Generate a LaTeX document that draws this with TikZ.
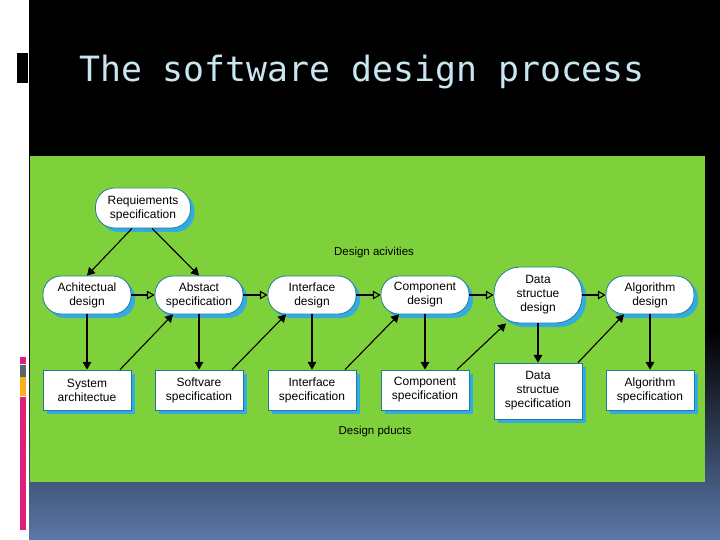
\documentclass[tikz,border=0pt]{standalone}
\usepackage{fontspec}
\newfontfamily\labelfont{Liberation Sans}
\newfontfamily\titlefont{DejaVu Sans Mono}
\usetikzlibrary{shapes.geometric, arrows, shadows}
\definecolor{panelgreen}{HTML}{7FD13B}
\definecolor{boxline}{HTML}{1E7E98}
\definecolor{boxshadow}{HTML}{33AAE2}
\definecolor{titleblue}{HTML}{C8E6F2}
\definecolor{slateblue}{HTML}{5B78AA}
\definecolor{slatemid}{HTML}{2F3D5C}
\definecolor{barpink}{HTML}{DE1F7E}
\definecolor{bargray}{HTML}{5A6470}
\definecolor{barorange}{HTML}{F6B21E}
\tikzstyle{activity} = [rectangle, rounded corners=18pt, minimum width=88pt, minimum height=38pt, inner sep=2pt, text centered, align=center, draw=boxline, line width=0.8pt, fill=white, drop shadow={shadow xshift=4pt, shadow yshift=-4pt, fill=boxshadow, opacity=1}, font=\labelfont\fontsize{12}{14}\selectfont]
\tikzstyle{product} = [rectangle, minimum width=88pt, minimum height=40pt, inner sep=2pt, text centered, align=center, draw=boxline, line width=0.8pt, fill=white, drop shadow={shadow xshift=4pt, shadow yshift=-4pt, fill=boxshadow, opacity=1}, font=\labelfont\fontsize{12}{14}\selectfont]
\tikzstyle{caption} = [font=\labelfont\fontsize{11.5}{14}\selectfont]
\tikzstyle{arrow} = [line width=1.1pt, ->, >=triangle 60]
\tikzstyle{flow} = [line width=1.1pt, ->, >=open triangle 60]

\begin{document}
\begin{tikzpicture}[x=1pt, y=-1pt]
    \useasboundingbox (0,0) rectangle (720,540);
    % slide background
    \fill [black] (29,0) rectangle (720,540);
    \shade [top color=black, middle color=slatemid, bottom color=slateblue] (29,330) rectangle (720,540);
    \fill [panelgreen] (30,156) rectangle (705,482);
    \fill [white] (0,0) rectangle (29,540);
    \fill [black] (17,53) rectangle (28,83);
    \fill [barpink] (20,357) rectangle (26,364);
    \fill [bargray] (20,365) rectangle (26,377);
    \fill [barorange] (20,377) rectangle (26,396);
    \fill [barpink] (20,397) rectangle (26,530);
    \node [anchor=base west, inner sep=0, text=titleblue, font=\titlefont\fontsize{34.8}{40}\selectfont] at (79,82) (title) {The software design process};

    \node [activity, minimum width=95pt, minimum height=40pt, rounded corners=19pt] at (143,208) (req) {Requiements\\specification};

    \node [activity] at (87,295) (ad) {Achitectual\\design};
    \node [activity] at (199,295) (as) {Abstact\\specification};
    \node [activity] at (312,295) (id) {Interface\\design};
    \node [activity] at (425,295) (cd) {Component\\design};
    \node [activity, minimum height=56pt, rounded corners=26pt] at (538,295) (dsd) {Data\\structue\\design};
    \node [activity] at (650,295) (algd) {Algorithm\\design};

    \node [product] at (87,390) (sa) {System\\architectue};
    \node [product] at (199,390) (ss) {Softvare\\specification};
    \node [product] at (312,390) (is) {Interface\\specification};
    \node [product] at (425,390) (cs) {Component\\specification};
    \node [product, minimum height=56pt] at (538,391) (dss) {Data\\structue\\specification};
    \node [product] at (650,390) (algs) {Algorithm\\specification};

    \node [caption] at (374,253) (acts) {Design acivities};
    \node [caption] at (375,432) (prods) {Design pducts};

    \draw [arrow] ([xshift=-11pt]req.south) -- (ad.north);
    \draw [arrow] ([xshift=9pt]req.south) -- (as.north);

    \draw [flow] (ad) -- (as);
    \draw [flow] (as) -- (id);
    \draw [flow] (id) -- (cd);
    \draw [flow] (cd) -- (dsd);
    \draw [flow] (dsd) -- (algd);

    \draw [arrow] (ad) -- (sa);
    \draw [arrow] (as) -- (ss);
    \draw [arrow] (id) -- (is);
    \draw [arrow] (cd) -- (cs);
    \draw [arrow] (dsd) -- (dss);
    \draw [arrow] (algd) -- (algs);

    \draw [arrow] ([xshift=33pt]sa.north) -- ([xshift=-26pt]as.south);
    \draw [arrow] ([xshift=33pt]ss.north) -- ([xshift=-26pt]id.south);
    \draw [arrow] ([xshift=33pt]is.north) -- ([xshift=-26pt]cd.south);
    \draw [arrow] ([xshift=32pt]cs.north) -- ([xshift=-32pt]dsd.south);
    \draw [arrow] ([xshift=40pt]dss.north) -- ([xshift=-26pt]algd.south);
\end{tikzpicture}
\end{document}
